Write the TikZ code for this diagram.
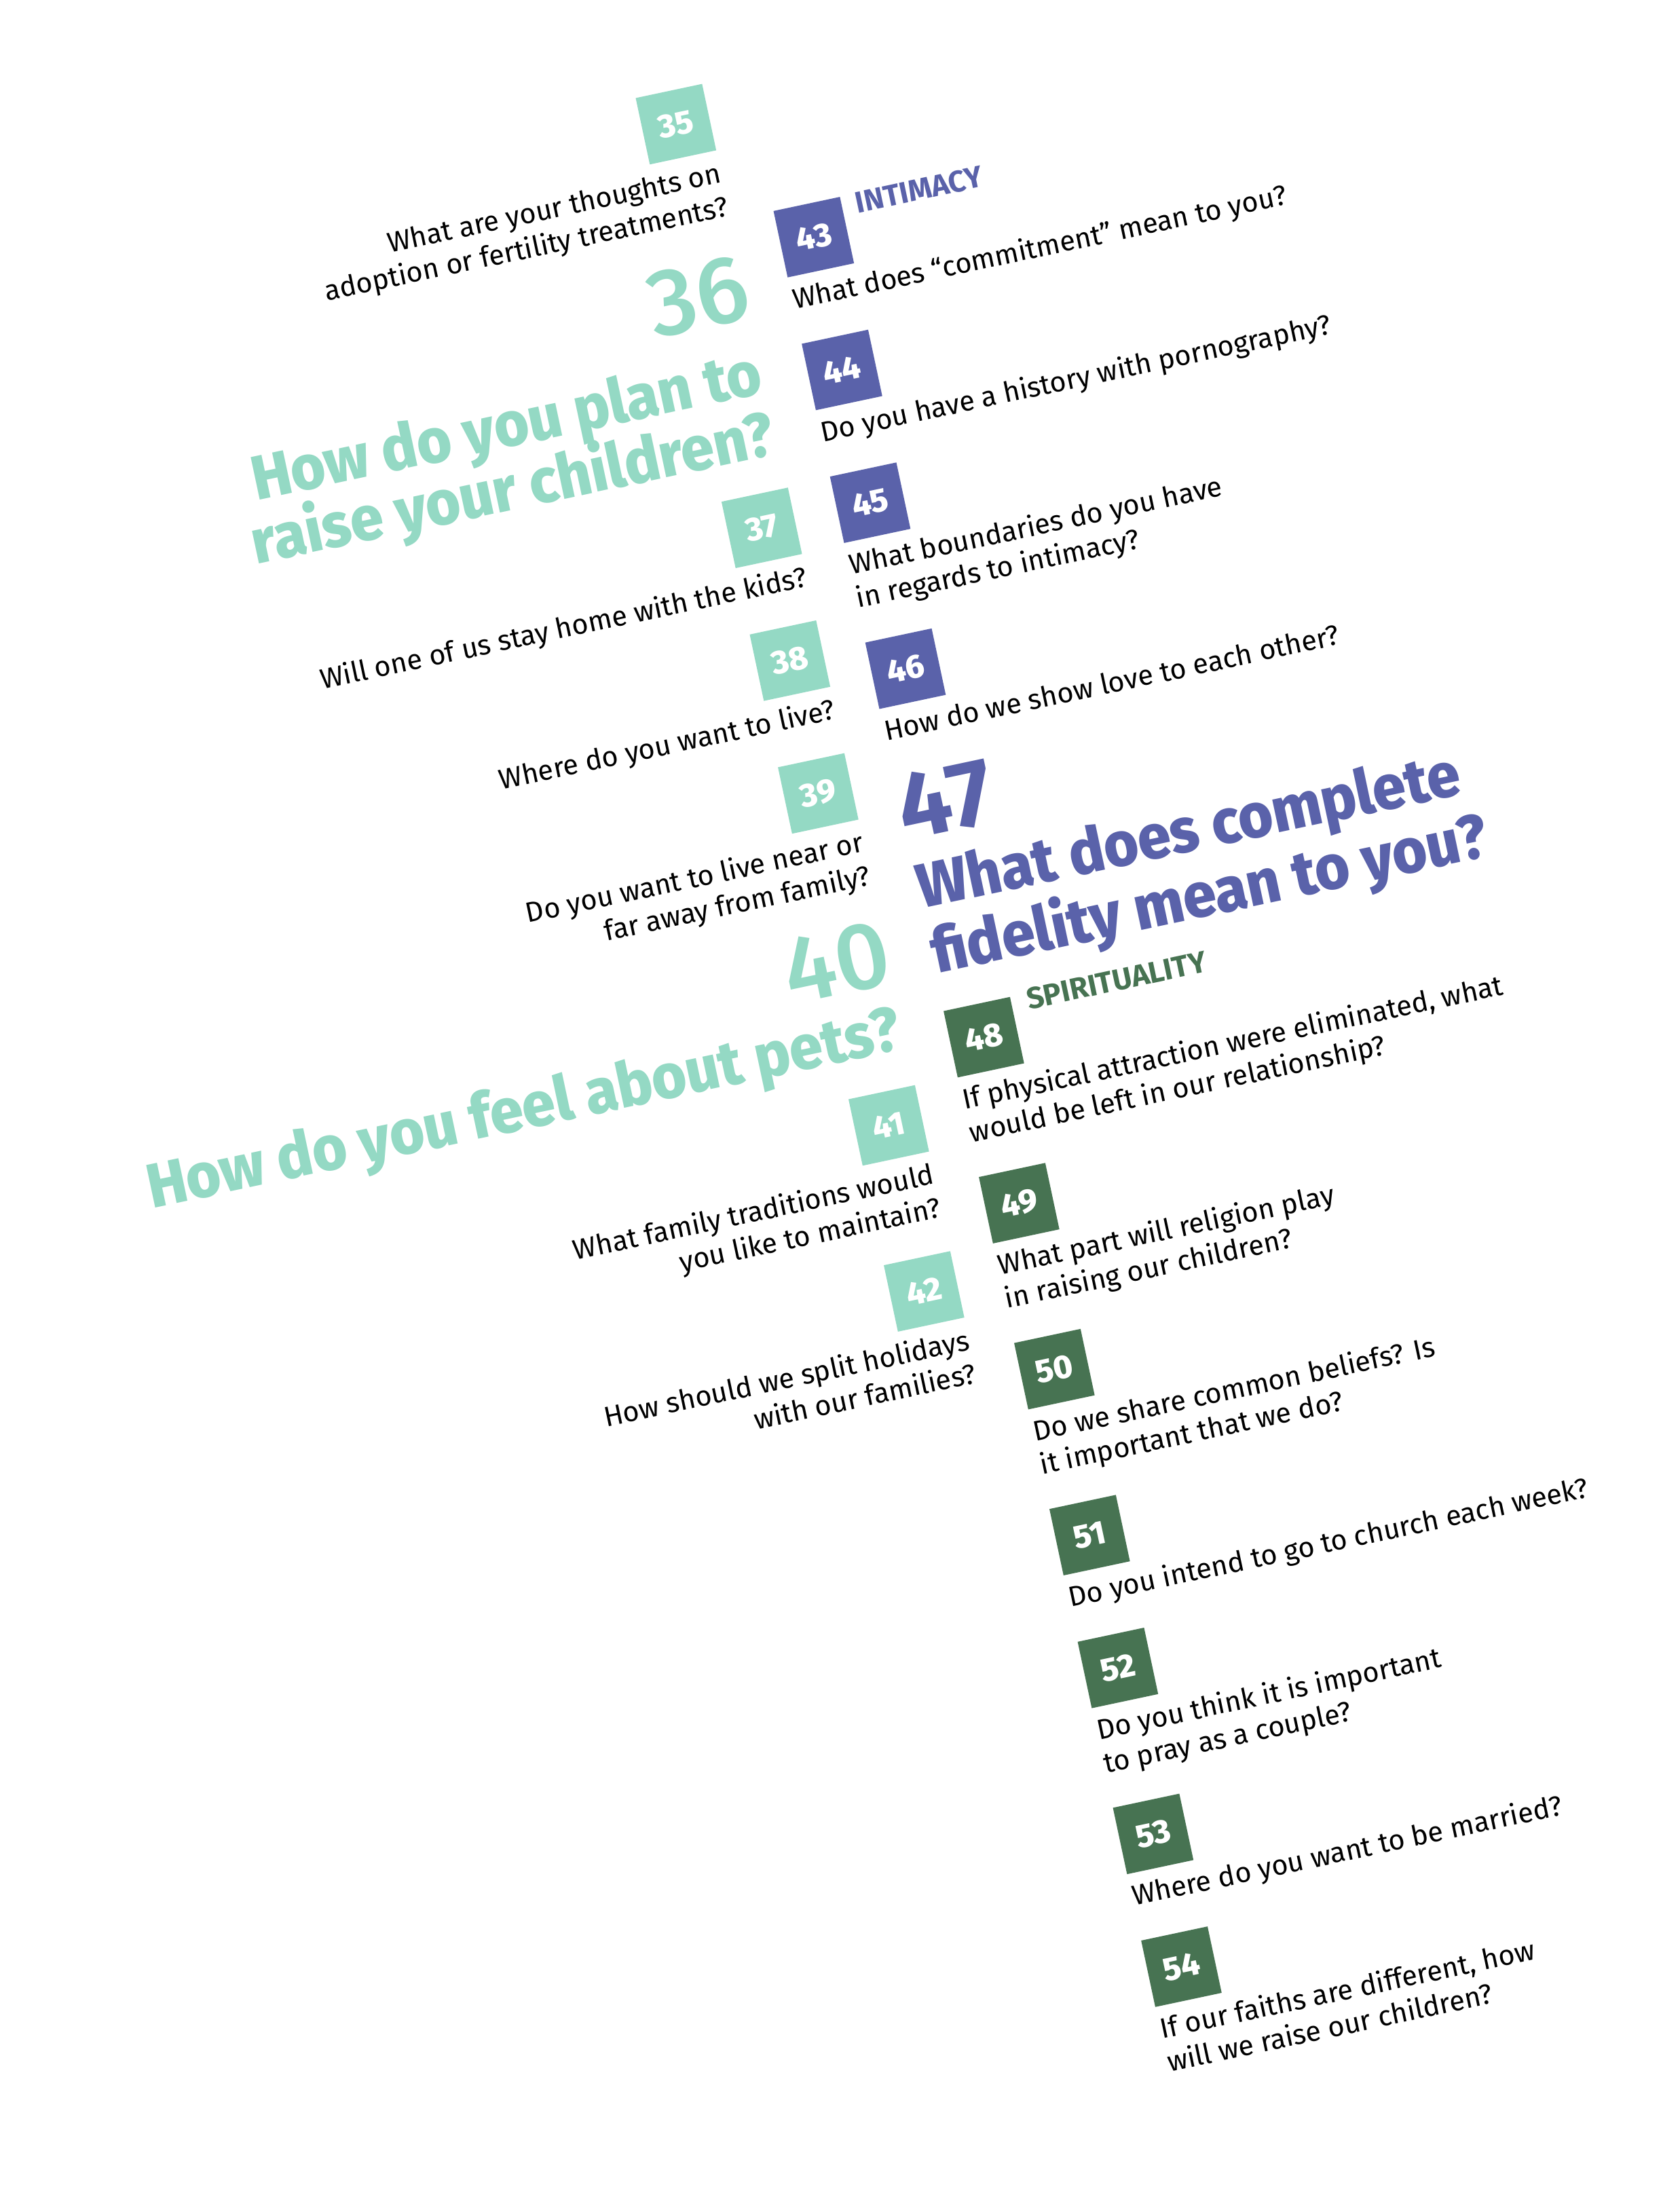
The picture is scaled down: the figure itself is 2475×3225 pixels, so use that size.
\documentclass[tikz,border=0pt]{standalone}
\usepackage{fontspec}
\setmainfont{Fira Sans}
\IfFontExistsTF{Fira Sans Heavy}{\newfontfamily\hvfamily{Fira Sans Heavy}}{%
  \IfFontExistsTF{Fira Sans ExtraBold}{\newfontfamily\hvfamily{Fira Sans ExtraBold}}{%
    \newcommand\hvfamily{\bfseries}}}
\IfFontExistsTF{Fira Sans Medium}{\newfontfamily\mdfamily{Fira Sans Medium}}{%
    \newcommand\mdfamily{}}
\definecolor{mint}{HTML}{94D9C4}
\definecolor{iris}{HTML}{5A62AA}
\definecolor{pine}{HTML}{477352}
\newcommand\qfont{\fontsize{11.8pt}{14pt}\selectfont}
\newcommand\boxfont{\fontsize{13.8pt}{15pt}\selectfont\hvfamily}
\newcommand\bignumfont{\fontsize{39.8pt}{42pt}\selectfont\mdfamily}
\newcommand\bignumboldfont{\fontsize{39.8pt}{42pt}\selectfont\bfseries}
\newcommand\headfont{\fontsize{26.2pt}{28pt}\selectfont\hvfamily}
\newcommand\labfont{\fontsize{12.6pt}{14pt}\selectfont\bfseries}
\tikzset{
  numbox/.style={fill=#1, text=white, minimum size=10mm, inner sep=0pt, font=\boxfont},
  qtext/.style={inner sep=0pt, font=\qfont, text=black},
  qleft/.style={qtext, anchor=base east},
  qright/.style={qtext, anchor=base west},
  headl/.style={inner sep=0pt, font=\headfont, text=#1, xscale=0.95},
  bignum/.style={inner sep=0pt, font=\bignumfont, text=#1},
  sectlabel/.style={inner sep=0pt, font=\labfont, text=#1, anchor=base west}
}
\begin{document}
\begin{tikzpicture}[x=0.1mm, y=-0.1mm]
\useasboundingbox (0,0) rectangle (2475,3225);
\fill[white] (0,0) rectangle (2475,3225);
\begin{scope}[rotate=12, transform shape]
% ---------- left column (mint) ----------
\node[numbox=mint] (b35) at (936,386) {35};
\node[qleft] (t35a) at (986,484) {What are your thoughts on};
\node[qleft] (t35b) at (986,534) {adoption or fertility treatments?};
\node[bignum=mint, anchor=base east] (n36) at (990,688) {36};
\node[headl=mint, anchor=base east] (h36a) at (982,800) {How do you plan to};
\node[headl=mint, anchor=base east] (h36b) at (982,892) {raise your children?};
\node[numbox=mint] (b37) at (936,994) {37};
\node[qleft] (t37a) at (986,1092) {Will one of us stay home with the kids?};
\node[numbox=mint] (b38) at (936,1194) {38};
\node[qleft] (t38a) at (986,1292) {Where do you want to live?};
\node[numbox=mint] (b39) at (936,1394) {39};
\node[qleft] (t39a) at (986,1492) {Do you want to live near or};
\node[qleft] (t39b) at (986,1542) {far away from family?};
\node[bignum=mint, anchor=base east] (n40) at (990,1690) {40};
\node[headl=mint, anchor=base east] (h40a) at (982,1788) {How do you feel about pets?};
\node[numbox=mint] (b41) at (936,1894) {41};
\node[qleft] (t41a) at (986,1992) {What family traditions would};
\node[qleft] (t41b) at (986,2042) {you like to maintain?};
\node[numbox=mint] (b42) at (936,2144) {42};
\node[qleft] (t42a) at (986,2242) {How should we split holidays};
\node[qleft] (t42b) at (986,2292) {with our families?};
% ---------- right column (iris) ----------
\node[sectlabel=iris] (l43) at (1170,570) {INTIMACY};
\node[numbox=iris] (b43) at (1100,591) {43};
\node[qright] (t43a) at (1050,689) {What does “commitment” mean to you?};
\node[numbox=iris] (b44) at (1100,791) {44};
\node[qright] (t44a) at (1050,889) {Do you have a history with pornography?};
\node[numbox=iris] (b45) at (1100,991) {45};
\node[qright] (t45a) at (1050,1089) {What boundaries do you have};
\node[qright] (t45b) at (1050,1139) {in regards to intimacy?};
\node[numbox=iris] (b46) at (1100,1241) {46};
\node[qright] (t46a) at (1050,1339) {How do we show love to each other?};
\node[inner sep=0pt, font=\bignumboldfont, text=iris, anchor=base west] (n47) at (1046,1489) {47};
\node[headl=iris, anchor=base west] (h47a) at (1050,1592) {What does complete};
\node[headl=iris, anchor=base west] (h47b) at (1050,1690) {fidelity mean to you?};
% ---------- right column (pine) ----------
\node[sectlabel=pine] (l48) at (1173,1770) {SPIRITUALITY};
\node[numbox=pine] (b48) at (1100,1796) {48};
\node[qright] (t48a) at (1050,1894) {If physical attraction were eliminated, what};
\node[qright] (t48b) at (1050,1944) {would be left in our relationship?};
\node[numbox=pine] (b49) at (1100,2046) {49};
\node[qright] (t49a) at (1050,2144) {What part will religion play};
\node[qright] (t49b) at (1050,2194) {in raising our children?};
\node[numbox=pine] (b50) at (1100,2296) {50};
\node[qright] (t50a) at (1050,2394) {Do we share common beliefs? Is};
\node[qright] (t50b) at (1050,2444) {it important that we do?};
\node[numbox=pine] (b51) at (1100,2546) {51};
\node[qright] (t51a) at (1050,2644) {Do you intend to go to church each week?};
\node[numbox=pine] (b52) at (1100,2746) {52};
\node[qright] (t52a) at (1050,2844) {Do you think it is important};
\node[qright] (t52b) at (1050,2894) {to pray as a couple?};
\node[numbox=pine] (b53) at (1100,2996) {53};
\node[qright] (t53a) at (1050,3094) {Where do you want to be married?};
\node[numbox=pine] (b54) at (1100,3196) {54};
\node[qright] (t54a) at (1050,3294) {If our faiths are different, how};
\node[qright] (t54b) at (1050,3344) {will we raise our children?};
\end{scope}
\end{tikzpicture}
\end{document}
